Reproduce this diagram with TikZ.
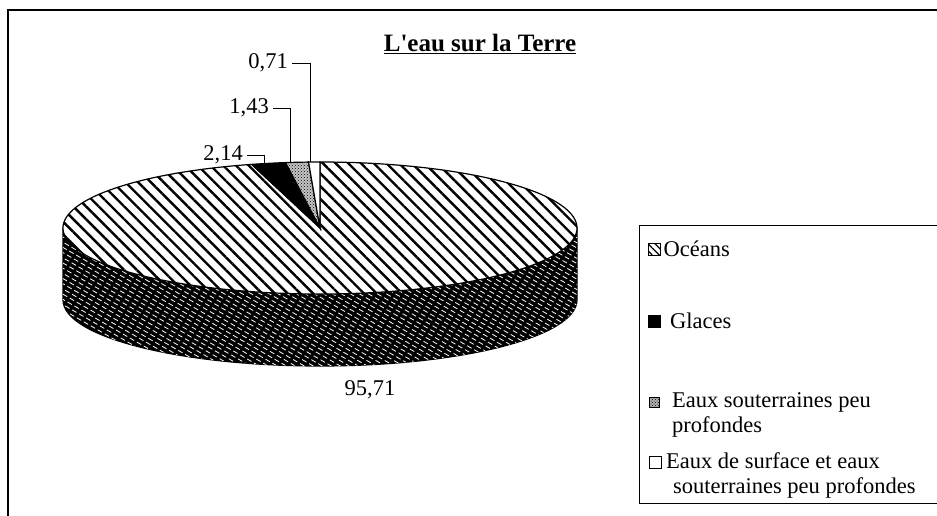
\documentclass[tikz,border=0pt]{standalone}
\usepackage{fontspec}
\setmainfont{Liberation Serif}
\usetikzlibrary{positioning,patterns,patterns.meta}

\pgfdeclarepattern{
  name=streaks,
  type=uncolored,
  bottom left={\pgfpoint{-.1pt}{-.1pt}},
  top right={\pgfpoint{8pt}{4.5pt}},
  tile size={\pgfpoint{8pt}{4.5pt}},
  tile transformation={\pgftransformrotate{-30}},
  code={\pgfsetlinewidth{0.8pt}
    \pgfpathmoveto{\pgfpoint{0pt}{2.2pt}}\pgfpathlineto{\pgfpoint{5pt}{2.2pt}}
    \pgfusepath{stroke}}
}

\begin{document}
\begin{tikzpicture}[x=1pt,y=1pt,
    every node/.style={inner sep=0pt, font=\fontsize{22.5}{25}\selectfont},
    oceantop/.style={fill=white, postaction={pattern={Lines[angle=-45,distance=9pt,line width=2.4pt]}}},
    oceanside/.style={fill=black, postaction={pattern=streaks, pattern color=white}},
    glaces/.style={fill=black},
    souter/.style={fill=gray!45, postaction={pattern=crosshatch dots}},
    surface/.style={fill=white},
    leader/.style={line width=0.9pt, shorten <=4pt},
    swatch/.style={draw, line width=0.8pt, minimum size=12pt},
    legtext/.style={align=left}]
  \useasboundingbox (0,0) rectangle (937,515);
  % cadre
  \draw[line width=2.5pt] (8,-5) -- (8,505);
  \draw[line width=1.4pt] (7,505) -- (945,505);

  \node[font=\fontsize{25}{30}\selectfont\bfseries] (title) at (480,471) {\underline{L\textquotesingle eau sur la Terre}};

  % camembert
  \begin{scope}[shift={(320,287)}, line width=1.2pt]
    \filldraw[oceanside] (180:257 and 66) arc[start angle=180, end angle=360, x radius=257, y radius=66]
      -- ++(0,-72) arc[start angle=0, end angle=-180, x radius=257, y radius=66] -- cycle;
    \filldraw[oceantop] (0,0) -- (105.41:257 and 66) arc[start angle=105.41, end angle=450, x radius=257, y radius=66] -- cycle;
    \filldraw[glaces] (0,0) -- (97.71:257 and 66) arc[start angle=97.71, end angle=105.41, x radius=257, y radius=66] -- cycle;
    \filldraw[souter] (0,0) -- (92.56:257 and 66) arc[start angle=92.56, end angle=97.71, x radius=257, y radius=66] -- cycle;
    \filldraw[surface] (0,0) -- (90:257 and 66) arc[start angle=90, end angle=92.56, x radius=257, y radius=66] -- cycle;
    \coordinate (e_071) at (92.2:257 and 66);
    \coordinate (e_143) at (96.7:257 and 66);
    \coordinate (e_214) at (102.4:257 and 66);
  \end{scope}

  \node[anchor=east] (l_071) at (288,452) {0,71};
  \node[anchor=east] (l_143) at (269,407) {1,43};
  \node[anchor=east] (l_214) at (243,360) {2,14};
  \node (l_9571) at (370,125) {95,71};
  \draw[leader] (l_071.east) -| (e_071);
  \draw[leader] (l_143.east) -| (e_143);
  \draw[leader] (l_214.east) -| (e_214);

  % legende
  \draw[line width=1pt] (946,290) -- (639,290) -- (639,12) -- (946,12);
  \node[swatch, fill=white, postaction={pattern={Lines[angle=-45,distance=5pt,line width=1.2pt]}}] (sw_oc) at (654,266) {};
  \node[swatch, glaces] (sw_gl) at (654.5,194) {};
  \node[swatch, fill=gray!60, postaction={pattern=crosshatch dots}, minimum size=10pt] (sw_es) at (654.5,112.5) {};
  \node[swatch, surface] (sw_sf) at (655.5,52.5) {};
  \node[legtext] (t_oc) [right=3pt of sw_oc] {Océans};
  \node[legtext] (t_gl) [right=9pt of sw_gl] {Glaces};
  \node[legtext] (t_es) [right=12pt of sw_es.north east, anchor=north west, yshift=5pt] {Eaux souterraines peu\\profondes};
  \node[legtext] (t_sf) [right=4pt of sw_sf.north east, anchor=north west, yshift=4pt] {Eaux de surface et eaux\\\hspace*{7pt}souterraines peu profondes};
\end{tikzpicture}
\end{document}
